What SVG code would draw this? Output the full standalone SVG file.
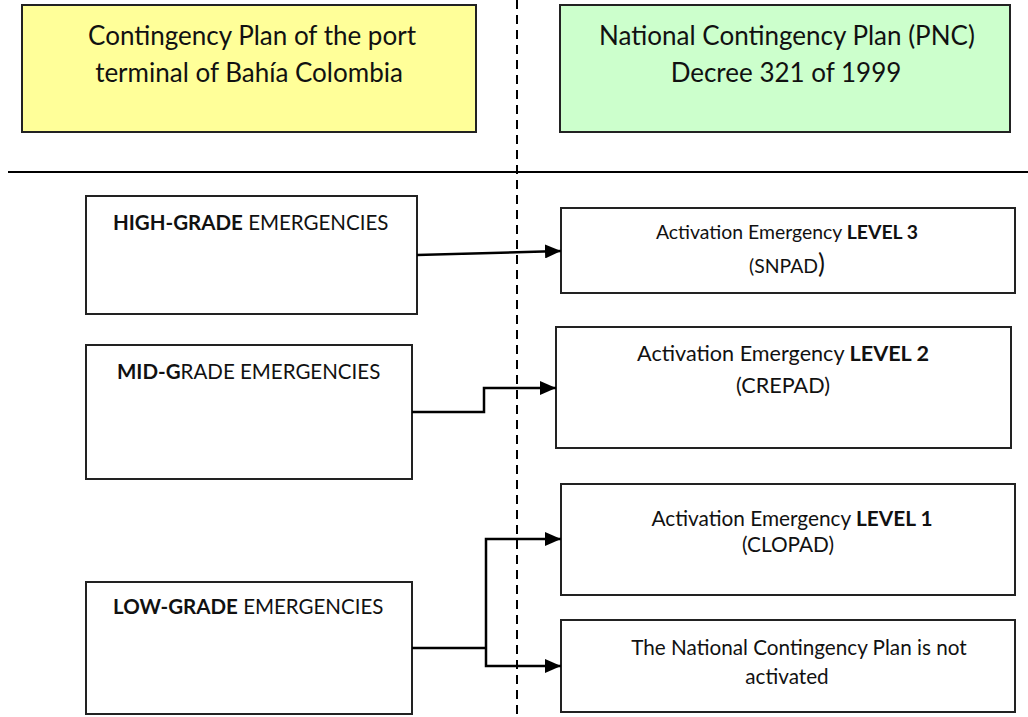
<svg xmlns="http://www.w3.org/2000/svg" width="1028" height="717" viewBox="0 0 1028 717">
  <style>
    text { font-family: Lato, "Open Sans", "Liberation Sans", sans-serif; fill: #111; }
    .box { fill: #fff; stroke: #222; stroke-width: 2; }
    .head { font-size: 26px; text-anchor: middle; }
    .lbl { font-size: 20.5px; }
    .mid { text-anchor: middle; }
    .b { font-weight: bold; }
    .wire { fill: none; stroke: #000; stroke-width: 2.5; }
    .divider { stroke: #000; stroke-width: 2; }
    .dash { stroke: #000; stroke-width: 2; stroke-dasharray: 9 6; }
  </style>
  <defs>
    <marker id="tip" viewBox="0 0 16 14" refX="16" refY="7" markerWidth="16" markerHeight="14" orient="auto" markerUnits="userSpaceOnUse">
      <path d="M0,0 L16,7 L0,14 Z" fill="#000"/>
    </marker>
  </defs>

  <rect width="1028" height="717" fill="#fff"/>

  <!-- column dividers -->
  <line class="divider" x1="8" y1="172" x2="1028" y2="172"/>
  <line class="dash" x1="517" y1="0" x2="517" y2="717"/>

  <!-- column headers -->
  <g id="port-plan">
    <rect x="22" y="5" width="454" height="127" fill="#ffff99" stroke="#222" stroke-width="2"/>
    <text class="head" x="252" y="45">Contingency Plan of the port</text>
    <text class="head" x="249" y="82">terminal of Bahía Colombia</text>
  </g>
  <g id="national-plan">
    <rect x="560" y="5" width="450" height="127" fill="#ccffcc" stroke="#222" stroke-width="2"/>
    <text class="head" x="787" y="45">National Contingency Plan (PNC)</text>
    <text class="head" x="786" y="82">Decree 321 of 1999</text>
  </g>

  <!-- emergency grades -->
  <g id="high-grade">
    <rect class="box" x="86" y="196" width="331" height="118"/>
    <text class="lbl" x="113" y="230"><tspan class="b">HIGH-GRADE</tspan> EMERGENCIES</text>
  </g>
  <g id="mid-grade">
    <rect class="box" x="86" y="345" width="326" height="134"/>
    <text class="lbl" x="117" y="379"><tspan class="b">MID-G</tspan>RADE EMERGENCIES</text>
  </g>
  <g id="low-grade">
    <rect class="box" x="86" y="582" width="326" height="132"/>
    <text class="lbl" x="113" y="614"><tspan class="b">LOW-GRADE</tspan> EMERGENCIES</text>
  </g>

  <!-- activation levels -->
  <g id="level-3">
    <rect class="box" x="561" y="208" width="454" height="85"/>
    <text class="mid" x="787" y="239" font-size="19.4">Activation Emergency <tspan class="b">LEVEL 3</tspan></text>
    <text class="mid" x="787" y="273" font-size="19.4">(SNPAD<tspan font-size="26">)</tspan></text>
  </g>
  <g id="level-2">
    <rect class="box" x="556" y="327" width="455" height="121"/>
    <text class="mid" x="783" y="361" font-size="21.6">Activation Emergency <tspan class="b">LEVEL 2</tspan></text>
    <text class="mid" x="783" y="393" font-size="21.6">(CREPAD)</text>
  </g>
  <g id="level-1">
    <rect class="box" x="561" y="484" width="454" height="111"/>
    <text class="mid" x="792" y="526" font-size="20.8">Activation Emergency <tspan class="b">LEVEL 1</tspan></text>
    <text class="mid" x="788" y="552" font-size="20.8">(CLOPAD)</text>
  </g>
  <g id="not-activated">
    <rect class="box" x="561" y="620" width="454" height="92"/>
    <text class="mid" x="799" y="655" font-size="20.7">The National Contingency Plan is not</text>
    <text class="mid" x="787" y="684" font-size="20.7">activated</text>
  </g>

  <!-- connectors -->
  <g id="connectors">
    <path class="wire" d="M417,255 L561,251" marker-end="url(#tip)"/>
    <path class="wire" d="M412,412 L484,412 L484,388 L556,388" marker-end="url(#tip)"/>
    <path class="wire" d="M412,648 L486,648"/>
    <path class="wire" d="M486,648 L486,539 L561,539" marker-end="url(#tip)"/>
    <path class="wire" d="M486,648 L486,666 L561,666" marker-end="url(#tip)"/>
  </g>
</svg>
